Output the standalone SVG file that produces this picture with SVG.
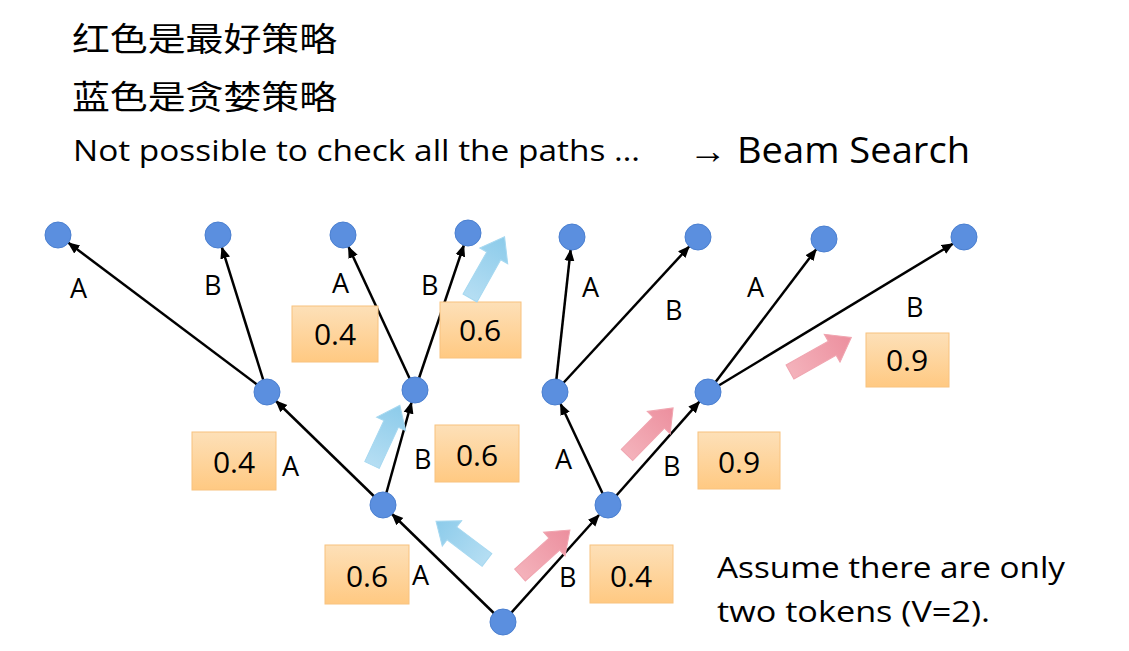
<svg xmlns="http://www.w3.org/2000/svg" width="1129" height="651" viewBox="0 0 1129 651">
<defs>
<style>
text{fill:#000;font-family:"Open Sans","Liberation Sans",sans-serif}
.zh{font-family:"Noto Sans CJK SC",sans-serif;font-size:33px}
.lb{font-size:27px}
.num{font-size:30px;text-anchor:middle}
.e{stroke:#000;stroke-width:2.5;fill:none;marker-end:url(#ah)}
.n{fill:#5b8fdf;stroke:#4a7fd0;stroke-width:1}
.box{fill:url(#og);stroke:#f8c27e;stroke-width:1}
</style>
<marker id="ah" markerUnits="userSpaceOnUse" markerWidth="12" markerHeight="12" viewBox="0 0 12 12" refX="11" refY="6" orient="auto"><path d="M0,1 L12,6 L0,11 Z" fill="#000"/></marker>
<linearGradient id="og" x1="0" y1="0" x2="0" y2="1"><stop offset="0" stop-color="#fde0b8"/><stop offset="1" stop-color="#ffc982"/></linearGradient>
<linearGradient id="bg" x1="0" y1="0" x2="1" y2="0"><stop offset="0" stop-color="#b5def3"/><stop offset="1" stop-color="#8ccbea"/></linearGradient>
<linearGradient id="pg" x1="0" y1="0" x2="1" y2="0"><stop offset="0" stop-color="#f4b2bb"/><stop offset="1" stop-color="#ec8f9e"/></linearGradient>
<path id="ba" d="M0,-8 L44,-8 L44,-16 L64,0 L44,16 L44,8 L0,8 Z"/>
</defs>
<rect width="1129" height="651" fill="#fff"/>
<text class="zh" x="72" y="51" textLength="265" lengthAdjust="spacingAndGlyphs">红色是最好策略</text>
<text class="zh" x="72" y="109" textLength="265" lengthAdjust="spacingAndGlyphs">蓝色是贪婪策略</text>
<text x="73" y="161" font-size="29" textLength="567" lengthAdjust="spacingAndGlyphs">Not possible to check all the paths …</text>
<text x="689" y="163" font-size="36" textLength="281" lengthAdjust="spacingAndGlyphs">→ Beam Search</text>
<text x="717" y="578" font-size="30" textLength="348" lengthAdjust="spacingAndGlyphs">Assume there are only</text>
<text x="717" y="622" font-size="30" textLength="273" lengthAdjust="spacingAndGlyphs">two tokens (V=2).</text>
<g id="connectors">
<line class="e" x1="503" y1="622" x2="392" y2="514"/>
<line class="e" x1="503" y1="622" x2="599" y2="515"/>
<line class="e" x1="383" y1="505" x2="276" y2="401"/>
<line class="e" x1="383" y1="505" x2="411.5" y2="402.5"/>
<line class="e" x1="608" y1="505" x2="560.5" y2="403.8"/>
<line class="e" x1="608" y1="505" x2="699.4" y2="401.7"/>
<line class="e" x1="267" y1="392" x2="68.4" y2="242.8"/>
<line class="e" x1="267" y1="392" x2="221.9" y2="247.4"/>
<line class="e" x1="415" y1="390" x2="348.5" y2="246.8"/>
<line class="e" x1="415" y1="390" x2="463.8" y2="245.3"/>
<line class="e" x1="555" y1="392" x2="570.6" y2="249.9"/>
<line class="e" x1="555" y1="392" x2="689.2" y2="246.5"/>
<line class="e" x1="708" y1="392" x2="816.1" y2="249.4"/>
<line class="e" x1="708" y1="392" x2="952.9" y2="243.7"/>
</g>
<g id="nodes">
<circle id="root" class="n" cx="503" cy="622" r="13"/>
<circle id="nA" class="n" cx="383" cy="505" r="13"/>
<circle id="nB" class="n" cx="608" cy="505" r="13"/>
<circle id="nAA" class="n" cx="267" cy="392" r="13"/>
<circle id="nAB" class="n" cx="415" cy="390" r="13"/>
<circle id="nBA" class="n" cx="555" cy="392" r="13"/>
<circle id="nBB" class="n" cx="708" cy="392" r="13"/>
<circle id="nAAA" class="n" cx="58" cy="235" r="13"/>
<circle id="nAAB" class="n" cx="218" cy="235" r="13"/>
<circle id="nABA" class="n" cx="343" cy="235" r="13"/>
<circle id="nABB" class="n" cx="468" cy="233" r="13"/>
<circle id="nBAA" class="n" cx="572" cy="237" r="13"/>
<circle id="nBAB" class="n" cx="698" cy="237" r="13"/>
<circle id="nBBA" class="n" cx="824" cy="239" r="13"/>
<circle id="nBBB" class="n" cx="964" cy="237" r="13"/>
</g>
<g id="labels">
<text class="lb" x="70" y="298">A</text>
<text class="lb" x="204" y="295">B</text>
<text class="lb" x="332" y="293">A</text>
<text class="lb" x="421" y="295">B</text>
<text class="lb" x="582" y="297">A</text>
<text class="lb" x="665" y="320">B</text>
<text class="lb" x="747" y="297">A</text>
<text class="lb" x="906" y="317">B</text>
<text class="lb" x="282" y="476">A</text>
<text class="lb" x="414" y="469">B</text>
<text class="lb" x="555" y="469">A</text>
<text class="lb" x="663" y="476">B</text>
<text class="lb" x="412" y="585">A</text>
<text class="lb" x="559" y="587">B</text>
</g>
<g id="boxes">
<rect class="box" x="292" y="306" width="86" height="56"/><text class="num" x="335" y="345">0.4</text>
<rect class="box" x="440" y="302" width="81" height="56"/><text class="num" x="480" y="341">0.6</text>
<rect class="box" x="866" y="333" width="83" height="54"/><text class="num" x="907" y="371">0.9</text>
<rect class="box" x="192" y="432" width="84" height="58"/><text class="num" x="234" y="473">0.4</text>
<rect class="box" x="435" y="425" width="84" height="57"/><text class="num" x="477" y="466">0.6</text>
<rect class="box" x="698" y="432" width="82" height="57"/><text class="num" x="739" y="473">0.9</text>
<rect class="box" x="325" y="545" width="84" height="59"/><text class="num" x="367" y="587">0.6</text>
<rect class="box" x="590" y="545" width="83" height="58"/><text class="num" x="631" y="587">0.4</text>
</g>
<g id="beam-arrows">
<use href="#ba" fill="url(#bg)" stroke="#a6d8f0" transform="translate(487,560) rotate(-142.8)"/>
<use href="#ba" fill="url(#pg)" stroke="#f0a5b0" transform="translate(520,575) rotate(-42) scale(1.05,1)"/>
<use href="#ba" fill="url(#bg)" stroke="#a6d8f0" transform="translate(372,465) rotate(-65) scale(1.03,1)"/>
<use href="#ba" fill="url(#pg)" stroke="#f0a5b0" transform="translate(627,455) rotate(-45.6) scale(1.03,1)"/>
<use href="#ba" fill="url(#bg)" stroke="#a6d8f0" transform="translate(470,298) rotate(-60.6) scale(1.1,1)"/>
<use href="#ba" fill="url(#pg)" stroke="#f0a5b0" transform="translate(790,372) rotate(-29.4) scale(1.1,1)"/>
</g>
</svg>
